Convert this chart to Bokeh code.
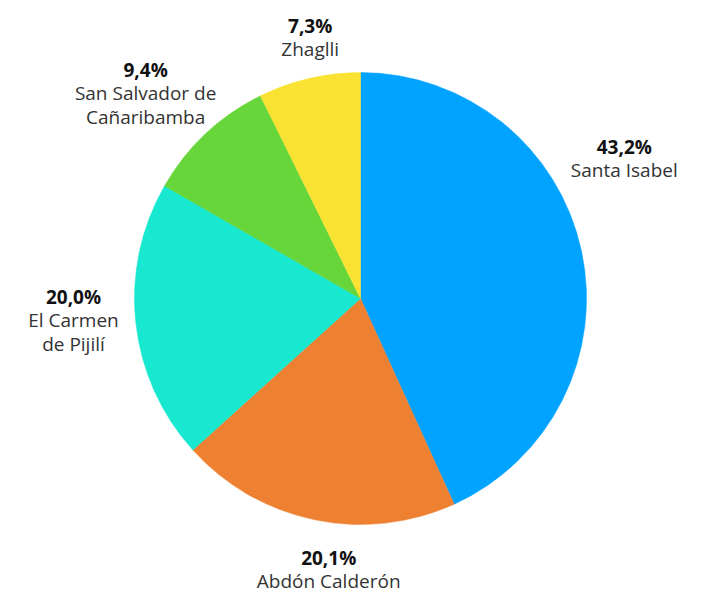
import math
from bokeh.plotting import figure
from bokeh.models import Range1d, ColumnDataSource
from bokeh.core.properties import value
from bokeh.embed import file_html
from bokeh.resources import INLINE

# ---- data ----
names = ["Santa Isabel", "Abdón Calderón", "El Carmen\nde Pijilí", "San Salvador de\nCañaribamba", "Zhaglli"]
shares = [43.2, 20.1, 20.0, 9.4, 7.3]
pct_labels = ["43,2%", "20,1%", "20,0%", "9,4%", "7,3%"]
colors = ["#00A3FF", "#EE8032", "#17E8CF", "#66D63A", "#FAE232"]

# ---- layout (label placement around pie) ----
label_nudge_deg = [-17.7, -4.7, 6.5, 0.0, 2.7]
label_dist = [1.347, 1.155, 1.27, 1.389, 1.228]

W, H = 713, 594
cx, cy, R = 360, -298, 226
line_gap = 23.5

p = figure(width=W, height=H, output_backend="svg", toolbar_location=None,
           x_range=Range1d(0, W), y_range=Range1d(-H, 0),
           min_border=0)
p.axis.visible = False
p.grid.visible = False
p.outline_line_color = None
p.background_fill_color = "white"

total = sum(shares)
starts, ends, mids = [], [], []
cum = 0.0
for s in shares:
    a0 = cum / total
    cum += s
    a1 = cum / total
    # clockwise from top -> bokeh anticlockwise from +x
    starts.append(math.pi / 2 - a1 * 2 * math.pi)
    ends.append(math.pi / 2 - a0 * 2 * math.pi)
    mids.append((a0 + a1) / 2 * 360.0)

src = ColumnDataSource(dict(x=[cx] * len(shares), y=[cy] * len(shares),
                            start=starts, end=ends, color=colors))
p.wedge(x="x", y="y", radius=R, start_angle="start", end_angle="end",
        fill_color="color", line_color="color", line_width=0.5, source=src)

px, py, pt = [], [], []
nx, ny, nt = [], [], []
for i in range(len(shares)):
    a = math.radians(mids[i] + label_nudge_deg[i])
    d = label_dist[i] * R
    lx = cx + d * math.sin(a)
    ly = cy + d * math.cos(a)
    px.append(lx); py.append(ly); pt.append(pct_labels[i])
    for j, line in enumerate(names[i].split("\n")):
        nx.append(lx); ny.append(ly - line_gap * (j + 1)); nt.append(line)

p.text(x=px, y=py, text=pt, text_font=value("Open Sans"), text_font_size="19px",
       text_font_style="bold", text_color="#111111", text_align="center",
       text_baseline="middle")
p.text(x=nx, y=ny, text=nt, text_font=value("Open Sans"), text_font_size="19px",
       text_color="#333333", text_align="center", text_baseline="middle")

open("out.html", "w").write(file_html(p, INLINE))
